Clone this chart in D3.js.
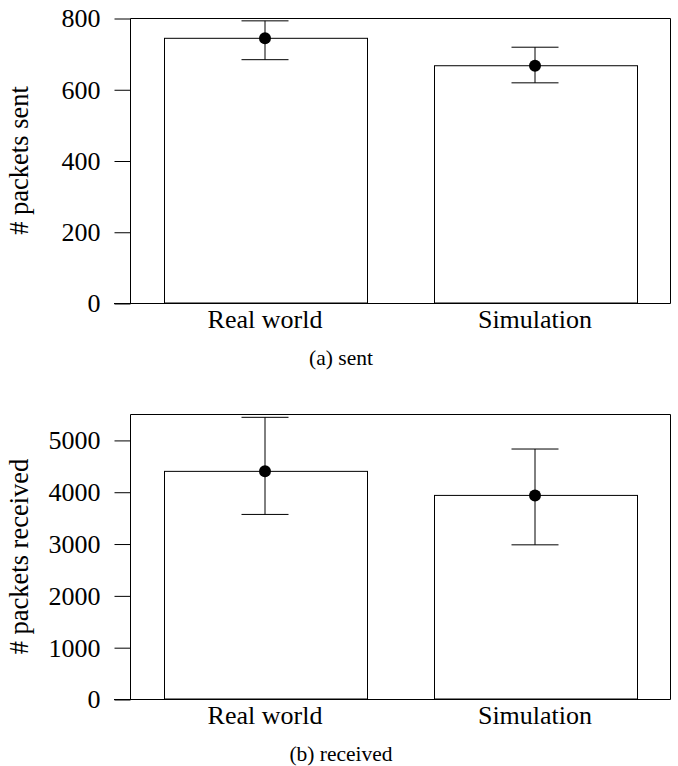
<!DOCTYPE html>
<html>
<head>
<meta charset="utf-8">
<script src="https://cdn.jsdelivr.net/npm/d3@7"></script>
<style>
  body { margin: 0; background: #fff; }
  svg { display: block; }
</style>
</head>
<body>
<svg id="chart" width="678" height="766"></svg>
<script>
// data
var categories = ["Real world", "Simulation"];

var sentMean = [743, 666],
    sentLow = [683, 618],
    sentHigh = [792, 718],
    sentTicks = [0, 200, 400, 600, 800];

var recvMean = [4393, 3929],
    recvLow = [3562, 2975],
    recvHigh = [5436, 4824],
    recvTicks = [0, 1000, 2000, 3000, 4000, 5000];

var svg = d3.select("#chart"),
    serif = "'Liberation Serif'",
    left = 130, right = 670,
    plotHeight = 285,
    tickLen = 16;

var x = d3.scaleBand()
    .domain(categories)
    .range([left, right])
    .paddingInner(0.25)
    .paddingOuter(0.125);

function panel(top, mean, low, high, ticks, yMax, yLabel, caption) {
    var bottom = top + plotHeight;
    var y = d3.scaleLinear().domain([0, yMax]).range([bottom, top]);
    var g = svg.append("g");

    // bars
    g.selectAll("rect.bar")
        .data(categories)
        .enter().append("rect")
        .attr("class", "bar")
        .attr("x", function(d) { return Math.round(x(d)) + 0.5; })
        .attr("y", function(d, i) { return y(mean[i]); })
        .attr("width", Math.round(x.bandwidth()))
        .attr("height", function(d, i) { return bottom - y(mean[i]); })
        .attr("fill", "#fff")
        .attr("stroke", "#000")
        .attr("stroke-width", 1);

    // frame (left + top + right)
    g.append("path")
        .attr("d", "M" + (left + 0.5) + "," + (bottom + 0.5) + "V" + (top + 0.5) +
                   "H" + (right + 0.5) + "V" + (bottom + 0.5))
        .attr("fill", "none")
        .attr("stroke", "#000")
        .attr("stroke-width", 1);

    // y axis
    var yAxis = d3.axisLeft(y)
        .tickValues(ticks)
        .tickFormat(d3.format("d"))
        .tickSize(tickLen)
        .tickSizeOuter(0)
        .tickPadding(14);

    var ax = g.append("g")
        .attr("transform", "translate(" + (left + 0.5) + ",0.5)")
        .call(yAxis);
    ax.select(".domain").remove();
    ax.selectAll(".tick line").attr("stroke", "#000");
    ax.selectAll(".tick text")
        .style("font-size", "26px")
        .style("font-family", serif)
        .attr("fill", "#000");

    // baseline extends to the left of the frame
    g.append("line")
        .attr("x1", left - tickLen).attr("x2", right + 0.5)
        .attr("y1", bottom + 0.5).attr("y2", bottom + 0.5)
        .attr("stroke", "#000");

    // error bars
    var err = g.selectAll("g.err")
        .data(categories)
        .enter().append("g")
        .attr("class", "err")
        .attr("transform", function(d) { return "translate(" + (x(d) + x.bandwidth() / 2) + ",0)"; });

    err.append("line")
        .attr("x1", 0).attr("x2", 0)
        .attr("y1", function(d, i) { return y(high[i]); })
        .attr("y2", function(d, i) { return y(low[i]); })
        .attr("stroke", "#000");
    err.append("line")
        .attr("x1", -23.5).attr("x2", 23.5)
        .attr("y1", function(d, i) { return y(high[i]); })
        .attr("y2", function(d, i) { return y(high[i]); })
        .attr("stroke", "#000");
    err.append("line")
        .attr("x1", -23.5).attr("x2", 23.5)
        .attr("y1", function(d, i) { return y(low[i]); })
        .attr("y2", function(d, i) { return y(low[i]); })
        .attr("stroke", "#000");
    err.append("circle")
        .attr("cx", 0)
        .attr("cy", function(d, i) { return y(mean[i]); })
        .attr("r", 6)
        .attr("fill", "#000");

    // category labels
    g.selectAll("text.cat")
        .data(categories)
        .enter().append("text")
        .attr("class", "cat")
        .attr("x", function(d) { return x(d) + x.bandwidth() / 2; })
        .attr("y", bottom + 24.7)
        .attr("text-anchor", "middle")
        .style("font-family", serif)
        .style("font-size", "26px")
        .text(function(d) { return d; });

    // y label
    g.append("text")
        .attr("transform", "translate(28," + (top + plotHeight / 2) + ") rotate(-90)")
        .attr("text-anchor", "middle")
        .style("font-family", serif)
        .style("font-size", "26.5px")
        .text(yLabel);

    // caption
    g.append("text")
        .attr("x", 341)
        .attr("y", bottom + 61.5)
        .attr("text-anchor", "middle")
        .style("font-family", serif)
        .style("font-size", "21.5px")
        .text(caption);
}

panel(18, sentMean, sentLow, sentHigh, sentTicks, 800, "# packets sent", "(a) sent");
panel(414, recvMean, recvLow, recvHigh, recvTicks, 5500, "# packets received", "(b) received");
</script>
</body>
</html>
